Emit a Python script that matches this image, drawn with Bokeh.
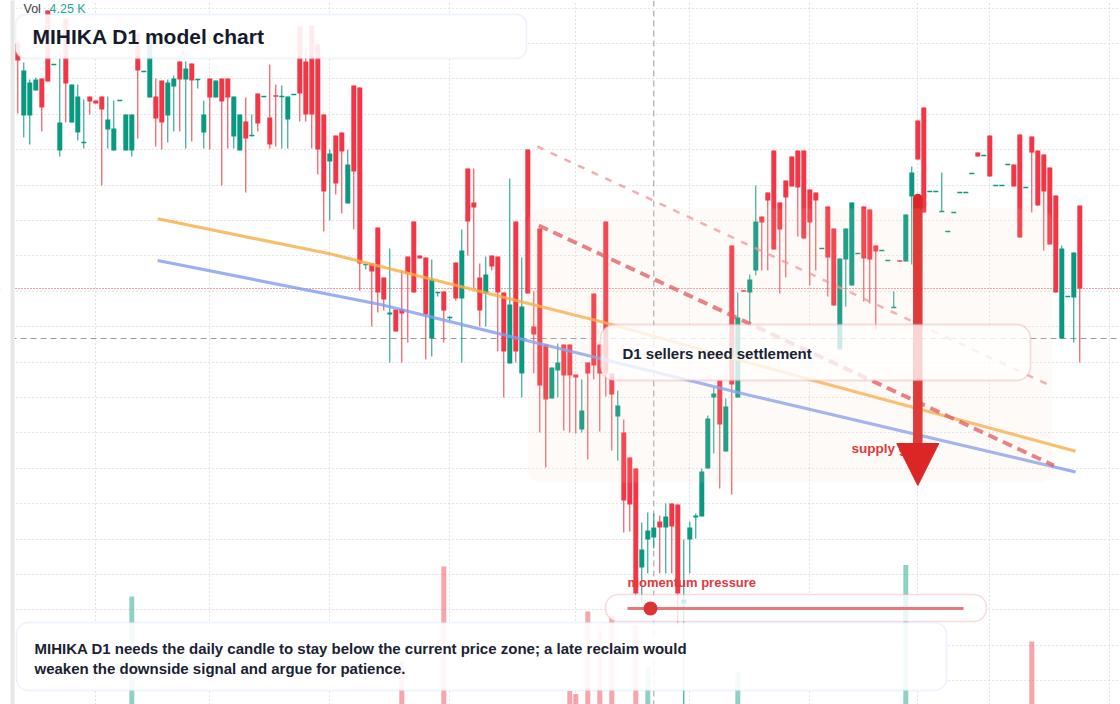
import numpy as np
from bokeh.plotting import figure
from bokeh.models import Range1d, FixedTicker, BoxAnnotation, Span, Arrow, NormalHead
from bokeh.core.properties import value
from bokeh.embed import file_html
from bokeh.resources import INLINE

# ---------------- data (daily bars, index 0..177) ----------------
open_ = [66.1, 58.9, 58.9, 61.4, 62.6, 69.4, 64.0, 55.4, 68.6, 58.2,
         57.2, 56.2, 60.8, 60.4, 60.8, 57.5, 55.4, 60.4, 55.4, 55.4,
         67.1, 63.3, 60.7, 60.8, 62.4, 58.9, 61.8, 64.3, 62.5, 64.1,
         62.5, 57.2, 62.6, 60.7, 62.6, 62.6, 56.8, 55.4, 58.3, 56.9,
         61.1, 60.8, 58.7, 60.9, 60.8, 58.5, 61.0, 67.8, 64.3, 67.9,
         66.0, 59.0, 54.3, 56.9, 57.2, 50.1, 61.9, 61.7, 44.0, 44.1,
         47.7, 42.7, 39.0, 39.5, 39.5, 44.8, 48.3, 44.9, 44.7, 36.6,
         41.2, 41.3, 38.7, 44.2, 40.6, 53.6, 50.2, 42.7, 41.1, 44.9,
         44.8, 41.2, 34.1, 48.3, 33.1, 55.5, 37.8, 47.6, 36.0, 30.6,
         33.4, 36.0, 36.0, 33.0, 27.5, 34.2, 41.1, 36.0, 48.3, 33.1,
         28.8, 27.2, 24.7, 23.6, 13.7, 16.5, 16.7, 18.3, 17.7, 20.1,
         20.0, 10.1, 16.5, 18.7, 18.8, 23.6, 30.7, 32.4, 25.3, 45.9,
         30.7, 41.4, 41.2, 43.4, 48.8, 51.2, 55.4, 50.2, 52.4, 54.8,
         55.4, 55.4, 51.5, 51.2, 45.6, 49.8, 47.6, 35.5, 44.5, 41.9,
         45.1, 49.8, 49.5, 45.9, 45.4, 44.4, 39.7, 44.4, 44.3, 50.8,
         58.4, 59.7, 51.3, 51.3, 49.3, 47.3, 49.2, 51.2, 51.2, 53.1,
         55.2, 54.9, 56.9, 51.9, 51.9, 54.0, 54.0, 57.0, 51.7, 56.8,
         55.4, 55.0, 53.7, 50.9, 36.6, 40.8, 40.7, 49.9]
high_ = [66.4, 64.2, 62.5, 62.7, 62.6, 69.4, 64.0, 64.6, 68.6, 62.0,
         62.0, 60.5, 60.8, 60.4, 60.8, 60.8, 60.4, 60.4, 59.0, 59.0,
         67.1, 63.3, 67.1, 62.6, 62.4, 62.5, 62.9, 64.3, 64.3, 64.1,
         62.5, 60.4, 62.6, 62.4, 62.6, 62.6, 60.8, 59.0, 60.7, 59.0,
         61.1, 60.8, 64.0, 62.0, 61.9, 60.8, 61.0, 67.8, 65.7, 67.9,
         66.0, 59.0, 55.5, 56.9, 57.2, 55.5, 61.9, 61.7, 44.0, 44.1,
         47.7, 42.7, 45.6, 39.5, 43.4, 44.8, 48.3, 44.9, 44.7, 44.5,
         41.2, 41.3, 38.8, 44.2, 47.5, 53.6, 53.6, 44.1, 44.8, 44.9,
         44.8, 41.2, 52.6, 48.3, 44.7, 55.5, 41.3, 47.6, 36.0, 33.7,
         36.1, 36.0, 36.0, 33.0, 32.5, 34.2, 41.1, 36.0, 48.3, 33.1,
         31.4, 28.5, 24.7, 23.6, 18.2, 19.2, 19.1, 18.9, 20.1, 20.1,
         20.0, 16.5, 18.3, 19.1, 23.6, 28.9, 31.7, 32.4, 30.6, 45.9,
         41.2, 41.4, 43.0, 51.9, 48.8, 51.2, 55.4, 50.2, 52.4, 54.8,
         55.4, 55.4, 51.5, 51.2, 45.6, 49.8, 47.6, 44.6, 47.6, 50.2,
         45.1, 49.8, 49.5, 45.9, 45.4, 44.4, 41.3, 44.4, 49.0, 53.8,
         58.4, 59.7, 51.3, 51.3, 53.2, 47.3, 49.2, 51.2, 51.2, 53.1,
         55.2, 54.9, 56.9, 51.9, 51.9, 54.0, 54.0, 57.0, 51.7, 56.8,
         55.4, 55.0, 53.7, 50.9, 45.9, 40.8, 45.2, 49.9]
low_ = [59.1, 56.7, 56.0, 61.4, 57.3, 62.3, 64.0, 54.8, 58.2, 58.2,
        56.4, 55.6, 59.0, 60.1, 51.9, 55.6, 55.4, 60.4, 55.4, 54.8,
        56.6, 63.3, 60.7, 55.8, 55.5, 56.2, 57.3, 57.3, 55.6, 56.3,
        61.6, 55.6, 55.5, 60.7, 51.9, 55.6, 55.6, 55.4, 51.2, 56.8,
        57.3, 60.8, 55.6, 55.8, 55.6, 55.6, 61.0, 58.3, 58.3, 55.6,
        53.0, 47.3, 48.4, 51.0, 49.1, 50.1, 47.5, 41.4, 43.5, 37.8,
        39.2, 39.4, 34.2, 37.3, 34.2, 36.2, 41.2, 44.6, 34.5, 34.8,
        40.8, 36.2, 38.4, 40.4, 34.2, 44.9, 41.6, 37.8, 37.8, 43.4,
        35.3, 30.7, 34.1, 34.2, 30.7, 41.1, 33.1, 27.2, 23.7, 30.6,
        30.7, 27.4, 27.2, 27.1, 27.2, 24.5, 32.5, 27.3, 30.8, 25.4,
        24.4, 17.2, 17.3, 10.7, 10.2, 13.1, 15.6, 13.1, 13.1, 13.1,
        7.9, -0.6, 13.1, 16.6, 18.8, 23.6, 25.1, 21.6, 25.3, 21.0,
        30.7, 41.3, 38.1, 42.9, 43.4, 43.4, 45.5, 41.1, 42.7, 51.8,
        46.8, 46.6, 41.9, 43.4, 45.6, 40.8, 39.9, 35.5, 39.8, 41.9,
        45.1, 40.3, 40.1, 37.5, 45.4, 44.4, 39.7, 44.3, 44.3, 44.0,
        54.5, 49.2, 51.3, 51.3, 49.3, 47.3, 49.2, 51.2, 51.2, 53.1,
        54.8, 54.9, 52.8, 51.9, 51.9, 54.0, 51.8, 46.7, 51.7, 49.2,
        49.9, 45.4, 46.0, 41.2, 36.6, 40.8, 36.2, 34.2]
close_ = [64.4, 63.4, 62.2, 62.5, 59.7, 62.3, 64.0, 58.2, 62.1, 62.0,
          60.8, 56.2, 60.3, 60.1, 59.5, 58.5, 57.6, 60.4, 59.0, 59.0,
          63.4, 63.3, 67.1, 58.6, 58.2, 62.2, 62.6, 62.5, 63.6, 62.4,
          62.5, 59.0, 60.7, 62.4, 60.3, 60.7, 60.8, 59.0, 56.6, 56.9,
          58.1, 60.8, 56.0, 60.8, 60.8, 60.8, 61.0, 61.1, 59.0, 59.0,
          55.5, 51.3, 55.1, 52.1, 55.3, 54.0, 53.3, 44.1, 44.0, 43.3,
          41.2, 40.5, 39.2, 37.3, 39.1, 43.1, 41.2, 44.6, 39.0, 42.5,
          41.2, 39.4, 38.7, 40.6, 45.4, 48.3, 49.7, 39.4, 43.0, 43.8,
          41.2, 35.3, 40.0, 35.3, 39.8, 41.1, 37.0, 31.9, 30.5, 33.7,
          34.2, 32.9, 32.9, 32.7, 29.4, 33.1, 33.9, 33.1, 33.1, 31.0,
          29.9, 20.4, 20.0, 11.1, 15.5, 17.4, 17.7, 17.7, 18.8, 17.8,
          11.1, 10.5, 17.7, 18.9, 23.3, 28.6, 31.1, 28.0, 29.8, 32.0,
          38.7, 41.3, 42.5, 48.3, 48.2, 50.4, 45.5, 47.5, 50.7, 51.8,
          51.7, 46.6, 48.2, 50.4, 45.6, 44.7, 39.9, 44.6, 47.6, 50.2,
          45.1, 44.6, 44.5, 45.3, 45.4, 44.4, 39.7, 44.3, 49.0, 53.2,
          54.5, 49.2, 51.3, 51.3, 49.3, 47.3, 49.2, 51.2, 51.2, 53.1,
          54.8, 54.9, 52.8, 51.9, 51.9, 54.0, 51.8, 46.7, 51.7, 55.2,
          49.9, 51.3, 46.0, 41.2, 45.6, 40.8, 45.2, 41.6]

# volume (thousands) for the bars whose volume columns are visible
vol_index = [19, 64, 71, 92, 93, 95, 97, 99, 103, 105, 106, 120, 148, 169]
vol_k = [11.6, 7.3, 13.6, 5.3, 5.1, 10.6, 9.3, 10.3, 9.7, 6.9, 4.25, 6.6, 13.7, 8.6]

# texts
title_text = "MIHIKA D1 model chart"
callout_text = "D1 sellers need settlement"
zone_text = "supply gate"
meter_text = "momentum pressure"
note_lines = ["MIHIKA D1 needs the daily candle to stay below the current price zone; a late reclaim would",
              "weaken the downside signal and argue for patience."]
vol_name = "Vol"
vol_shown = "4.25 K"

# drawings anchored at (bar index, price)
orange_idx = [23.3, 52.0, 97.6, 132.6, 176.3]
orange_px = [48.57, 45.07, 38.23, 32.4, 25.33]
blue_idx = [23.3, 60.45, 122.1, 176.3]
blue_px = [44.4, 40.0, 30.9, 23.25]
chan_idx = [86.83, 172.67]
chan_px = [47.9, 23.9]
chan2_idx = [86.57, 172.4]
chan2_px = [55.8, 31.8]
zone_left, zone_right, zone_top, zone_bottom = 85.0, 172.4, 49.6, 22.2
arrow_idx, arrow_from, arrow_to = 150, 50.6, 21.9
cross_idx, cross_price = 106, 36.6

# ---------------- geometry ----------------
W, H = 1120, 704
X0, DX = 17.3, 6.0      # pixel of bar 0, pixels per bar
PY = 10.0               # pixels per price unit
HEAD = 42               # arrow head size, px

def px2x(px):
    return (px - X0) / DX

def py2y(py):
    return (H - py) / PY

RED = "#f23645"
GREEN = "#089981"
ARROW_RED = "#dc2626"
FONT = value("Liberation Sans")

p = figure(width=W, height=H, x_range=Range1d(px2x(0), px2x(W)), y_range=Range1d(0, H / PY),
           output_backend="svg", toolbar_location=None, min_border=0,
           x_axis_location=None, y_axis_location=None, outline_line_color=None,
           background_fill_color="white", border_fill_color="white")
p.extra_y_ranges = {"vol": Range1d(4.4, 51.33)}

p.xgrid.ticker = FixedTicker(ticks=[13, 32, 52, 72, 93, 112, 132, 150, 162, 182])
p.ygrid.ticker = FixedTicker(ticks=[round(2.39 + 3.54 * k, 2) for k in range(20)])
p.grid.grid_line_color = "#c8c8c8"
p.grid.grid_line_dash = "1 3"
p.grid.grid_line_width = 1

# crosshair + last price
p.add_layout(Span(location=cross_idx, dimension="height", line_color="#9a9a9a",
                  line_dash="6 4", line_width=1, level="underlay"))
p.add_layout(Span(location=cross_price, dimension="width", line_color="#9a9a9a",
                  line_dash="6 4", line_width=1, level="underlay"))
p.add_layout(Span(location=close_[-1], dimension="width", line_color=RED,
                  line_dash="1 2", line_width=1.2, level="underlay"))

o = np.array(open_); h = np.array(high_); l = np.array(low_); c = np.array(close_)
idx = np.arange(len(o))
up = c >= o
colors = np.where(up, GREEN, RED).tolist()

# volume
vcol = [GREEN if close_[i] >= open_[i] else RED for i in vol_index]
p.vbar(x=vol_index, top=vol_k, bottom=0, width=0.83, fill_color=vcol, fill_alpha=0.45,
       line_color=None, y_range_name="vol")

# candles
btop = np.maximum(o, c); bbot = np.minimum(o, c)
mid = (btop + bbot) / 2
thin = (btop - bbot) < 0.15
btop = np.where(thin, mid + 0.075, btop)
bbot = np.where(thin, mid - 0.075, bbot)
p.segment(x0=idx, y0=l, x1=idx, y1=h, line_color=colors, line_width=1)
p.vbar(x=idx, top=btop, bottom=bbot, width=0.83, fill_color=colors, line_color=None)

# trend lines & channel
p.line(orange_idx, orange_px, line_color="#f6ae45", line_alpha=0.8, line_width=3.2)
p.line(blue_idx, blue_px, line_color="#7f9ef0", line_alpha=0.8, line_width=3.2)
p.line(chan2_idx, chan2_px, line_color="#ef9195", line_alpha=0.75, line_width=2.5, line_dash="7 8")
p.line(chan_idx, chan_px, line_color="#e04a50", line_alpha=0.75, line_width=4, line_dash="10 6")

# supply gate label (under the arrow)
p.text(x=[px2x(851)], y=[py2y(448)], text=[zone_text], text_font=FONT, text_font_style="bold",
       text_font_size="13.5px", text_color="#dc2626", text_baseline="middle", text_align="left")

# arrow shaft (ends inside the head)
head_base = arrow_to + (HEAD - 4) / PY
p.segment(x0=[arrow_idx], y0=[arrow_from], x1=[arrow_idx], y1=[head_base],
          line_color=ARROW_RED, line_width=9.5, line_cap="round")

# zone
p.add_layout(BoxAnnotation(left=zone_left, right=zone_right, top=zone_top, bottom=zone_bottom,
                           fill_color="#f3d6bb", fill_alpha=0.12, line_color=None, border_radius=14))
# arrow head
p.add_layout(Arrow(end=NormalHead(size=HEAD, fill_color=ARROW_RED, line_color=ARROW_RED, line_width=1),
                   x_start=arrow_idx, y_start=arrow_to + 1.0, x_end=arrow_idx, y_end=arrow_to,
                   line_alpha=0))
# callout box
p.add_layout(BoxAnnotation(left=px2x(600), right=px2x(1030), top=py2y(324), bottom=py2y(380),
                           fill_color="white", fill_alpha=0.78, line_color="#ec9095", line_width=1.8,
                           border_radius=14))
# meter pill
p.add_layout(BoxAnnotation(left=px2x(605), right=px2x(986), top=py2y(594), bottom=py2y(621),
                           fill_color="white", fill_alpha=0.8, line_color="#ec8d92", line_width=1.6,
                           border_radius=13))
# title box
p.add_layout(BoxAnnotation(left=px2x(15), right=px2x(526), top=py2y(14), bottom=py2y(58),
                           fill_color="white", fill_alpha=0.9, line_color="#cbdaf6", line_width=2,
                           border_radius=10))
# note box
p.add_layout(BoxAnnotation(left=px2x(16), right=px2x(946), top=py2y(622), bottom=py2y(690),
                           fill_color="white", fill_alpha=0.9, line_color="#cbdaf6", line_width=1.8,
                           border_radius=12))
# left strip
p.add_layout(BoxAnnotation(left=px2x(-5), right=px2x(14), top=py2y(-5), bottom=py2y(H + 5),
                           fill_color="white", fill_alpha=1, line_color=None))
p.add_layout(BoxAnnotation(left=px2x(10), right=px2x(14), top=py2y(-5), bottom=py2y(H + 5),
                           fill_color="#e7e7e7", fill_alpha=1, line_color=None))

# meter track + knob
p.segment(x0=[px2x(627)], y0=[py2y(608)], x1=[px2x(963)], y1=[py2y(608)],
          line_color="#e57a7e", line_width=3, level="overlay")
p.scatter(x=[px2x(650)], y=[py2y(608)], size=14, fill_color="#dc3434", line_color=None, level="overlay")

# texts on top
def txt(px, py, s, size, color, bold=True):
    p.text(x=[px2x(px)], y=[py2y(py)], text=[s], text_font=FONT,
           text_font_style="bold" if bold else "normal", text_font_size=size,
           text_color=color, text_baseline="middle", text_align="left", level="overlay")

txt(32, 36, title_text, "21px", "#131b2c")
txt(622, 353, callout_text, "15px", "#1a2233")
txt(627, 582, meter_text, "13px", "#e03a3f")
txt(34, 648, note_lines[0], "15px", "#1a2233")
txt(34, 668, note_lines[1], "15px", "#1a2233")
txt(23, 8, vol_name, "12.5px", "#3d3d3d", bold=False)
txt(49, 8, vol_shown, "12.5px", "#22a699", bold=False)

open("out.html", "w").write(file_html(p, INLINE))
